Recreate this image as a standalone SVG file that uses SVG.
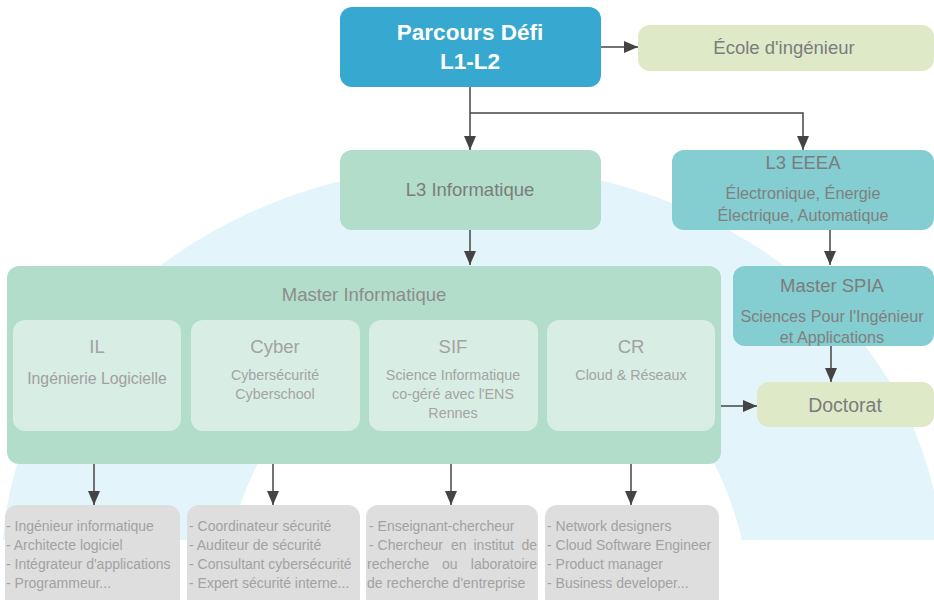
<svg xmlns="http://www.w3.org/2000/svg" width="934" height="600" viewBox="0 0 934 600">
<defs>
<marker id="ah" markerUnits="userSpaceOnUse" markerWidth="14" markerHeight="12" refX="14" refY="6" orient="auto">
<path d="M0,0 L14,6 L0,12 Z" fill="#444"/>
</marker>
<clipPath id="bgclip"><rect x="0" y="0" width="934" height="540"/></clipPath>
</defs>
<style>
text{font-family:"Liberation Sans",Arial,sans-serif}
.c{text-anchor:middle}
.t{font-size:18.5px;fill:#7c7c7c}
.s{font-size:16.2px;fill:#808080}
.st{font-size:18.5px;fill:#a2a2a2}
.ss{font-size:14.3px;fill:#a4a4a4}
.b{font-size:14px;fill:#a2a2a2}
.conn{fill:none;stroke:#444;stroke-width:1.5;marker-end:url(#ah)}
.green{fill:#b2ddca}
.teal{fill:#84cdd0}
.lime{fill:#dde9c7}
.sub{fill:#d8ede4}
.grey{fill:#dedede}
</style>
<rect width="934" height="600" fill="#fff"/>
<g id="background" clip-path="url(#bgclip)">
<path fill="#e3f5fa" fill-rule="evenodd" d="M2,565 A470,400 0 0 1 942,565 A470,400 0 0 1 2,565 Z M221,620 A265,308 0 0 1 751,620 A265,308 0 0 1 221,620 Z"/>
</g>
<g id="connectors">
<path class="conn" d="M601,47 H638"/>
<path class="conn" d="M470,87 V150"/>
<path class="conn" d="M470,113 H803 V150"/>
<path class="conn" d="M470,230 V265"/>
<path class="conn" d="M830,230 V265"/>
<path class="conn" d="M831,346 V382"/>
<path class="conn" d="M721,406 H757"/>
<path class="conn" d="M94,431 V505"/>
<path class="conn" d="M273,431 V505"/>
<path class="conn" d="M451,431 V505"/>
<path class="conn" d="M631,431 V505"/>
</g>
<g id="parcours">
<rect x="340" y="7" width="261" height="80" rx="12" fill="#37a8d0"/>
<text class="c" x="470" y="40" font-size="22.5" font-weight="bold" fill="#fff">Parcours Défi</text>
<text class="c" x="470" y="69" font-size="22.5" font-weight="bold" fill="#fff">L1-L2</text>
</g>
<g id="ecole">
<rect x="638" y="25" width="296" height="46" rx="12" class="lime"/>
<text class="c t" x="784" y="54">École d'ingénieur</text>
</g>
<g id="l3info">
<rect x="340" y="150" width="261" height="80" rx="12" class="green"/>
<text class="c t" x="470" y="196">L3 Informatique</text>
</g>
<g id="l3eeea">
<rect x="672" y="150" width="262" height="80" rx="12" class="teal"/>
<text class="c t" x="803" y="169">L3 EEEA</text>
<text class="c s" x="803" y="199">Électronique, Énergie</text>
<text class="c s" x="803" y="221">Électrique, Automatique</text>
</g>
<g id="master-info">
<rect x="7" y="266" width="714" height="198" rx="12" class="green"/>
<text class="c" x="364" y="301" font-size="18.5" fill="#8c8c8c">Master Informatique</text>
</g>
<g id="il">
<rect x="13" y="320" width="168" height="111" rx="12" class="sub"/>
<text class="c st" x="97" y="353">IL</text>
<text class="c" x="97" y="384" font-size="15.8" fill="#a0a0a0">Ingénierie Logicielle</text>
</g>
<g id="cyber">
<rect x="191" y="320" width="169" height="111" rx="12" class="sub"/>
<text class="c st" x="275" y="353">Cyber</text>
<text class="c ss" x="275" y="380">Cybersécurité</text>
<text class="c ss" x="275" y="399">Cyberschool</text>
</g>
<g id="sif">
<rect x="369" y="320" width="169" height="111" rx="12" class="sub"/>
<text class="c st" x="453" y="353">SIF</text>
<text class="c ss" x="453" y="380">Science Informatique</text>
<text class="c ss" x="453" y="399">co-géré avec l'ENS</text>
<text class="c ss" x="453" y="418">Rennes</text>
</g>
<g id="cr">
<rect x="547" y="320" width="168" height="111" rx="12" class="sub"/>
<text class="c st" x="631" y="353">CR</text>
<text class="c ss" x="631" y="380">Cloud &amp; Réseaux</text>
</g>
<g id="spia">
<rect x="733" y="266" width="201" height="80" rx="12" class="teal"/>
<text class="c t" x="832" y="292">Master SPIA</text>
<text class="c s" x="832" y="322">Sciences Pour l'Ingénieur</text>
<text class="c s" x="832" y="343">et Applications</text>
</g>
<g id="doctorat">
<rect x="757" y="382" width="177" height="45" rx="12" class="lime"/>
<text class="c" x="845" y="412" font-size="19.5" fill="#7c7c7c">Doctorat</text>
</g>
<g id="jobs-il">
<rect x="5" y="505" width="175" height="110" rx="12" class="grey"/>
<text class="b" x="6" y="531">- Ingénieur informatique</text>
<text class="b" x="6" y="550">- Architecte logiciel</text>
<text class="b" x="6" y="569">- Intégrateur d'applications</text>
<text class="b" x="6" y="588">- Programmeur...</text>
</g>
<g id="jobs-cyber">
<rect x="187" y="505" width="173" height="110" rx="12" class="grey"/>
<text class="b" x="189" y="531">- Coordinateur sécurité</text>
<text class="b" x="189" y="550">- Auditeur de sécurité</text>
<text class="b" x="189" y="569">- Consultant cybersécurité</text>
<text class="b" x="189" y="588">- Expert sécurité interne...</text>
</g>
<g id="jobs-sif">
<rect x="366" y="505" width="172" height="110" rx="12" class="grey"/>
<text class="b" x="369" y="531">- Enseignant-chercheur</text>
<text class="b" x="369" y="550">- Chercheur</text>
<text class="b" x="451" y="550">en</text>
<text class="b" x="473.5" y="550">institut</text>
<text class="b" x="537" y="550" text-anchor="end">de</text>
<text class="b" x="367" y="569">recherche</text>
<text class="b" x="442" y="569">ou</text>
<text class="b" x="537" y="569" text-anchor="end">laboratoire</text>
<text class="b" x="367" y="588">de recherche d'entreprise</text>
</g>
<g id="jobs-cr">
<rect x="545" y="505" width="174" height="110" rx="12" class="grey"/>
<text class="b" x="547" y="531">- Network designers</text>
<text class="b" x="547" y="550">- Cloud Software Engineer</text>
<text class="b" x="547" y="569">- Product manager</text>
<text class="b" x="547" y="588">- Business developer...</text>
</g>
</svg>
